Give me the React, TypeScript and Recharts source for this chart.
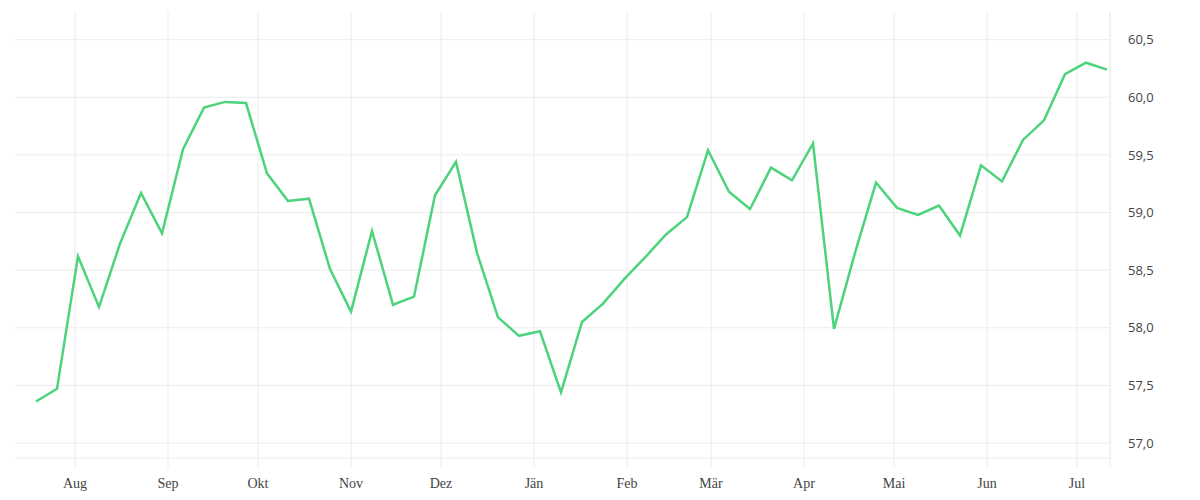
import { LineChart, Line, XAxis, YAxis, CartesianGrid } from "recharts";

// weekly observations
const weekDates = [
  "2022-07-19", "2022-07-26", "2022-08-02", "2022-08-09", "2022-08-16", "2022-08-23",
  "2022-08-30", "2022-09-06", "2022-09-13", "2022-09-20", "2022-09-27", "2022-10-04",
  "2022-10-11", "2022-10-18", "2022-10-25", "2022-11-01", "2022-11-08", "2022-11-15",
  "2022-11-22", "2022-11-29", "2022-12-06", "2022-12-13", "2022-12-20", "2022-12-27",
  "2023-01-03", "2023-01-10", "2023-01-17", "2023-01-24", "2023-01-31", "2023-02-07",
  "2023-02-14", "2023-02-21", "2023-02-28", "2023-03-07", "2023-03-14", "2023-03-21",
  "2023-03-28", "2023-04-04", "2023-04-11", "2023-04-18", "2023-04-25", "2023-05-02",
  "2023-05-09", "2023-05-16", "2023-05-23", "2023-05-30", "2023-06-06", "2023-06-13",
  "2023-06-20", "2023-06-27", "2023-07-04", "2023-07-11",
];

const weekValues = [
  57.36, 57.47, 58.62, 58.18, 58.73, 59.17,
  58.82, 59.55, 59.91, 59.96, 59.95, 59.34,
  59.10, 59.12, 58.51, 58.14, 58.84, 58.2,
  58.27, 59.15, 59.44, 58.65, 58.09, 57.93,
  57.97, 57.44, 58.05, 58.21, 58.42, 58.61,
  58.81, 58.96, 59.54, 59.18, 59.03, 59.39,
  59.28, 59.6, 57.99, 58.65, 59.26, 59.04,
  58.98, 59.06, 58.8, 59.41, 59.27, 59.63,
  59.8, 60.2, 60.3, 60.24,
];

const monthStarts = [
  "2022-08-01", "2022-09-01", "2022-10-01", "2022-11-01", "2022-12-01", "2023-01-01",
  "2023-02-01", "2023-03-01", "2023-04-01", "2023-05-01", "2023-06-01", "2023-07-01",
];
const monthLabels = ["Aug", "Sep", "Okt", "Nov", "Dez", "Jän", "Feb", "Mär", "Apr", "Mai", "Jun", "Jul"];

const yTicks = [57, 57.5, 58, 58.5, 59, 59.5, 60, 60.5];

const rangeStart = "2022-07-12";
const rangeEnd = "2023-07-12";

const toTime = (s: string) => {
  const [y, m, d] = s.split("-").map(Number);
  return Date.UTC(y, m - 1, d);
};

const data = weekDates.map((d, i) => ({ t: toTime(d), value: weekValues[i] }));
const endTime = toTime(rangeEnd);
const xTicks = [...monthStarts.map(toTime), endTime];

const gridColor = "#ececec";

function monthLabel(t: number) {
  const idx = monthStarts.map(toTime).indexOf(t);
  return idx >= 0 ? monthLabels[idx] : "";
}

export default function App() {
  return (
    <div style={{ position: "absolute", left: 0, top: 0, background: "#fff" }}>
      <LineChart width={1200} height={500} data={data} margin={{ top: 12, right: 0, bottom: 0, left: 15 }}>
        <CartesianGrid stroke={gridColor} syncWithTicks />
        <XAxis
          dataKey="t"
          type="number"
          domain={[toTime(rangeStart), endTime]}
          ticks={xTicks}
          tickFormatter={monthLabel}
          height={42}
          stroke={gridColor}
          tickSize={10}
          tickMargin={10}
          tick={{ fill: "#444", fontSize: 14, fontFamily: "Liberation Serif" }}
          interval={0}
          allowDataOverflow
        />
        <YAxis
          orientation="right"
          width={90}
          domain={[56.87, 60.74]}
          ticks={yTicks}
          interval={0}
          tickFormatter={(v: number) => v.toFixed(1).replace(".", ",")}
          axisLine={{ stroke: gridColor }}
          tickLine={false}
          tickSize={0}
          tickMargin={18}
          tick={{ fill: "#444", fontSize: 13, fontFamily: "Open Sans" }}
          allowDataOverflow
        />
        <Line
          type="linear"
          dataKey="value"
          stroke="#4cd37b"
          strokeWidth={2.5}
          dot={false}
          activeDot={false}
          isAnimationActive={false}
        />
      </LineChart>
    </div>
  );
}
